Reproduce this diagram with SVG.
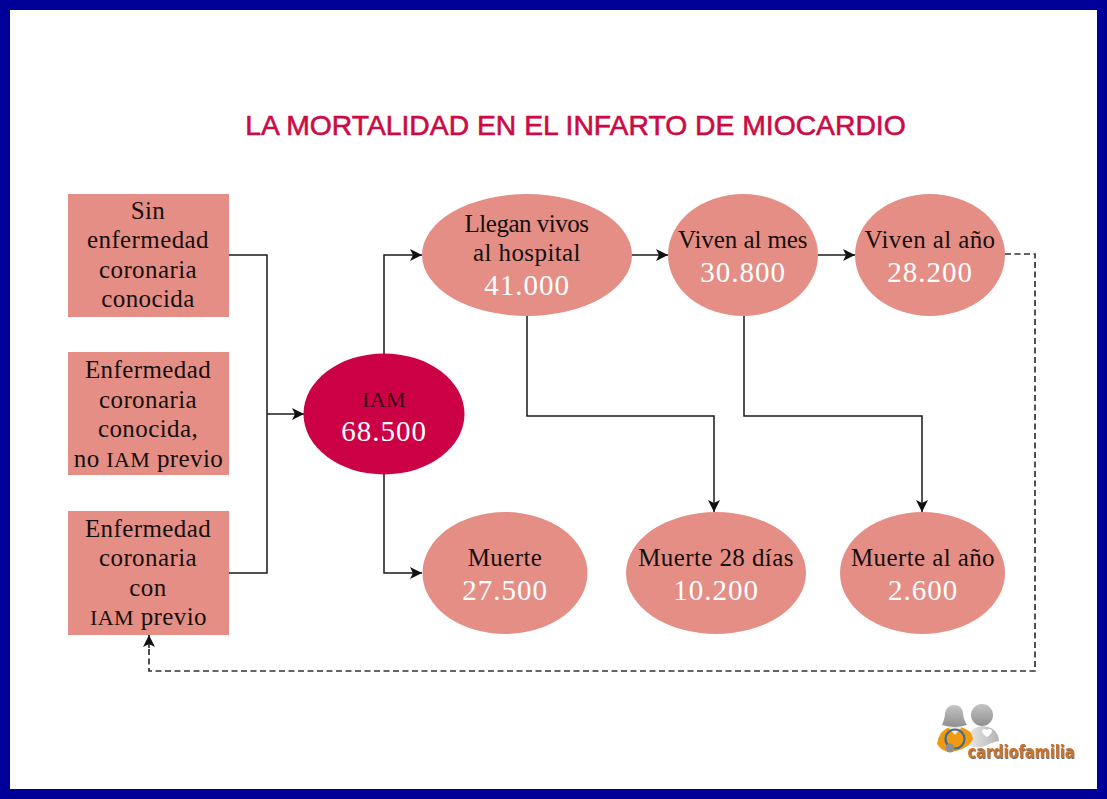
<svg xmlns="http://www.w3.org/2000/svg" width="1107" height="799" viewBox="0 0 1107 799">
<defs>
<marker id="arr" markerWidth="13" markerHeight="13" refX="12" refY="6" orient="auto" markerUnits="userSpaceOnUse"><path d="M0 0L12 6L0 12L3 6Z" fill="#111"/></marker>
<linearGradient id="gh" x1="0" y1="0" x2="0" y2="1"><stop offset="0" stop-color="#c4c4c4"/><stop offset="1" stop-color="#8f8f8f"/></linearGradient>
<linearGradient id="gb" x1="0" y1="0" x2="1" y2="0"><stop offset="0" stop-color="#e8e8e8"/><stop offset="1" stop-color="#b4b4b4"/></linearGradient>
<filter id="sh" x="-10%" y="-20%" width="120%" height="150%"><feDropShadow dx="0.800" dy="1" stdDeviation="0.600" flood-color="#666"/></filter>
</defs>
<style>
.n{fill:#e58e86}
.t{font-family:"Liberation Serif",serif;font-size:25px;letter-spacing:.4px;fill:#150f0d;text-anchor:middle}
.v{font-family:"Liberation Serif",serif;font-size:29px;letter-spacing:1px;fill:#fff;text-anchor:middle}
.c{fill:none;stroke:#1a1a1a;stroke-width:1.5}
.d{stroke-dasharray:6 3.500;stroke:#333;stroke-width:1.700}
.s{font-size:22px}
</style>
<rect width="1107" height="799" fill="#000099"/>
<rect x="10" y="10" width="1087" height="779" fill="#fff"/>
<text x="575.500" y="135" font-family="Liberation Sans, Arial, sans-serif" font-size="28.300" fill="#cc0a44" stroke="#cc0a44" stroke-width=".6" text-anchor="middle">LA MORTALIDAD EN EL INFARTO DE MIOCARDIO</text>
<g id="connectors">
<path class="c" d="M229 255H267V573H229"/>
<path class="c" marker-end="url(#arr)" d="M267 414H304"/>
<path class="c" marker-end="url(#arr)" d="M384 354V255H422"/>
<path class="c" marker-end="url(#arr)" d="M384 474V573H422"/>
<path class="c" marker-end="url(#arr)" d="M632 255H668"/>
<path class="c" marker-end="url(#arr)" d="M818 255H855"/>
<path class="c" marker-end="url(#arr)" d="M527 316V416H714V512"/>
<path class="c" marker-end="url(#arr)" d="M744 316V416H922V512"/>
<path class="c d" d="M1005 254H1035V671H149V648"/>
<path class="c" marker-end="url(#arr)" d="M149 648V635"/>
</g>
<g id="n1"><rect class="n" x="68" y="194" width="161" height="123"/><text class="t" x="148" y="219">Sin</text><text class="t" x="148" y="248">enfermedad</text><text class="t" x="148" y="278">coronaria</text><text class="t" x="148" y="307">conocida</text></g>
<g id="n2"><rect class="n" x="68" y="352" width="161" height="123"/><text class="t" x="148" y="378">Enfermedad</text><text class="t" x="148" y="408">coronaria</text><text class="t" x="148" y="437">conocida,</text><text class="t" x="148.500" y="467">no <tspan class="s">IAM</tspan> previo</text></g>
<g id="n3"><rect class="n" x="68" y="511" width="161" height="124"/><text class="t" x="148" y="537">Enfermedad</text><text class="t" x="148" y="566">coronaria</text><text class="t" x="148" y="596">con</text><text class="t" x="148.500" y="625"><tspan class="s">IAM</tspan> previo</text></g>
<g id="iam"><ellipse cx="384" cy="414" rx="80.500" ry="60.500" fill="#cc0044"/><text class="t s" x="384" y="407" style="fill:#3a0a18">IAM</text><text class="v" x="384" y="441">68.500</text></g>
<g id="llegan"><ellipse class="n" cx="527" cy="255" rx="105" ry="61"/><text class="t" x="527" y="232" textLength="125">Llegan vivos</text><text class="t" x="527" y="261">al hospital</text><text class="v" x="527" y="295">41.000</text></g>
<g id="mes"><ellipse class="n" cx="743" cy="255" rx="75" ry="61"/><text class="t" x="743" y="248" textLength="130">Viven al mes</text><text class="v" x="743" y="282">30.800</text></g>
<g id="ano"><ellipse class="n" cx="930" cy="255" rx="75" ry="61"/><text class="t" x="930" y="248">Viven al año</text><text class="v" x="930" y="282">28.200</text></g>
<g id="muerte"><ellipse class="n" cx="505" cy="573" rx="82.500" ry="61"/><text class="t" x="505" y="566">Muerte</text><text class="v" x="505" y="600">27.500</text></g>
<g id="m28"><ellipse class="n" cx="716" cy="573" rx="90" ry="61"/><text class="t" x="716" y="566">Muerte 28 días</text><text class="v" x="716" y="600">10.200</text></g>
<g id="mano"><ellipse class="n" cx="922.500" cy="573" rx="82.500" ry="61"/><text class="t" x="923" y="566">Muerte al año</text><text class="v" x="923" y="600">2.600</text></g>
<g id="logo">
<path d="M968 745Q967 728 982 726Q998 727 999 741Q990 743 985 746Q976 749 968 745Z" fill="url(#gb)"/>
<circle cx="982" cy="715" r="11" fill="url(#gh)"/>
<path d="M987 737c-3-2-5-4-5-6c0-2 3-3 5-1c2-2 5-1 5 1c0 2-2 4-5 6Z" fill="#fff"/>
<path d="M937 744Q939 730 950 727H961Q972 730 973 739Q968 750 950 752Q941 751 937 744Z" fill="#f09a14"/>
<path d="M948 727L955 735L962 727Z" fill="#f2e8d8"/>
<path d="M942 725Q945 718 945 713Q947 705 954 705Q962 705 963 713Q963 719 967 725Q955 729 942 725Z" fill="url(#gh)"/>
<circle cx="955" cy="739" r="9.500" fill="none" stroke="#3e6c92" stroke-width="2.200"/>
<circle cx="950" cy="748" r="4.500" fill="#8f8f8f"/>
<text x="1021" y="758" font-family="DejaVu Sans, sans-serif" font-size="18" font-weight="700" fill="#c9742a" filter="url(#sh)" text-anchor="middle" textLength="107" lengthAdjust="spacingAndGlyphs">cardiofamilia</text>
</g>
</svg>
